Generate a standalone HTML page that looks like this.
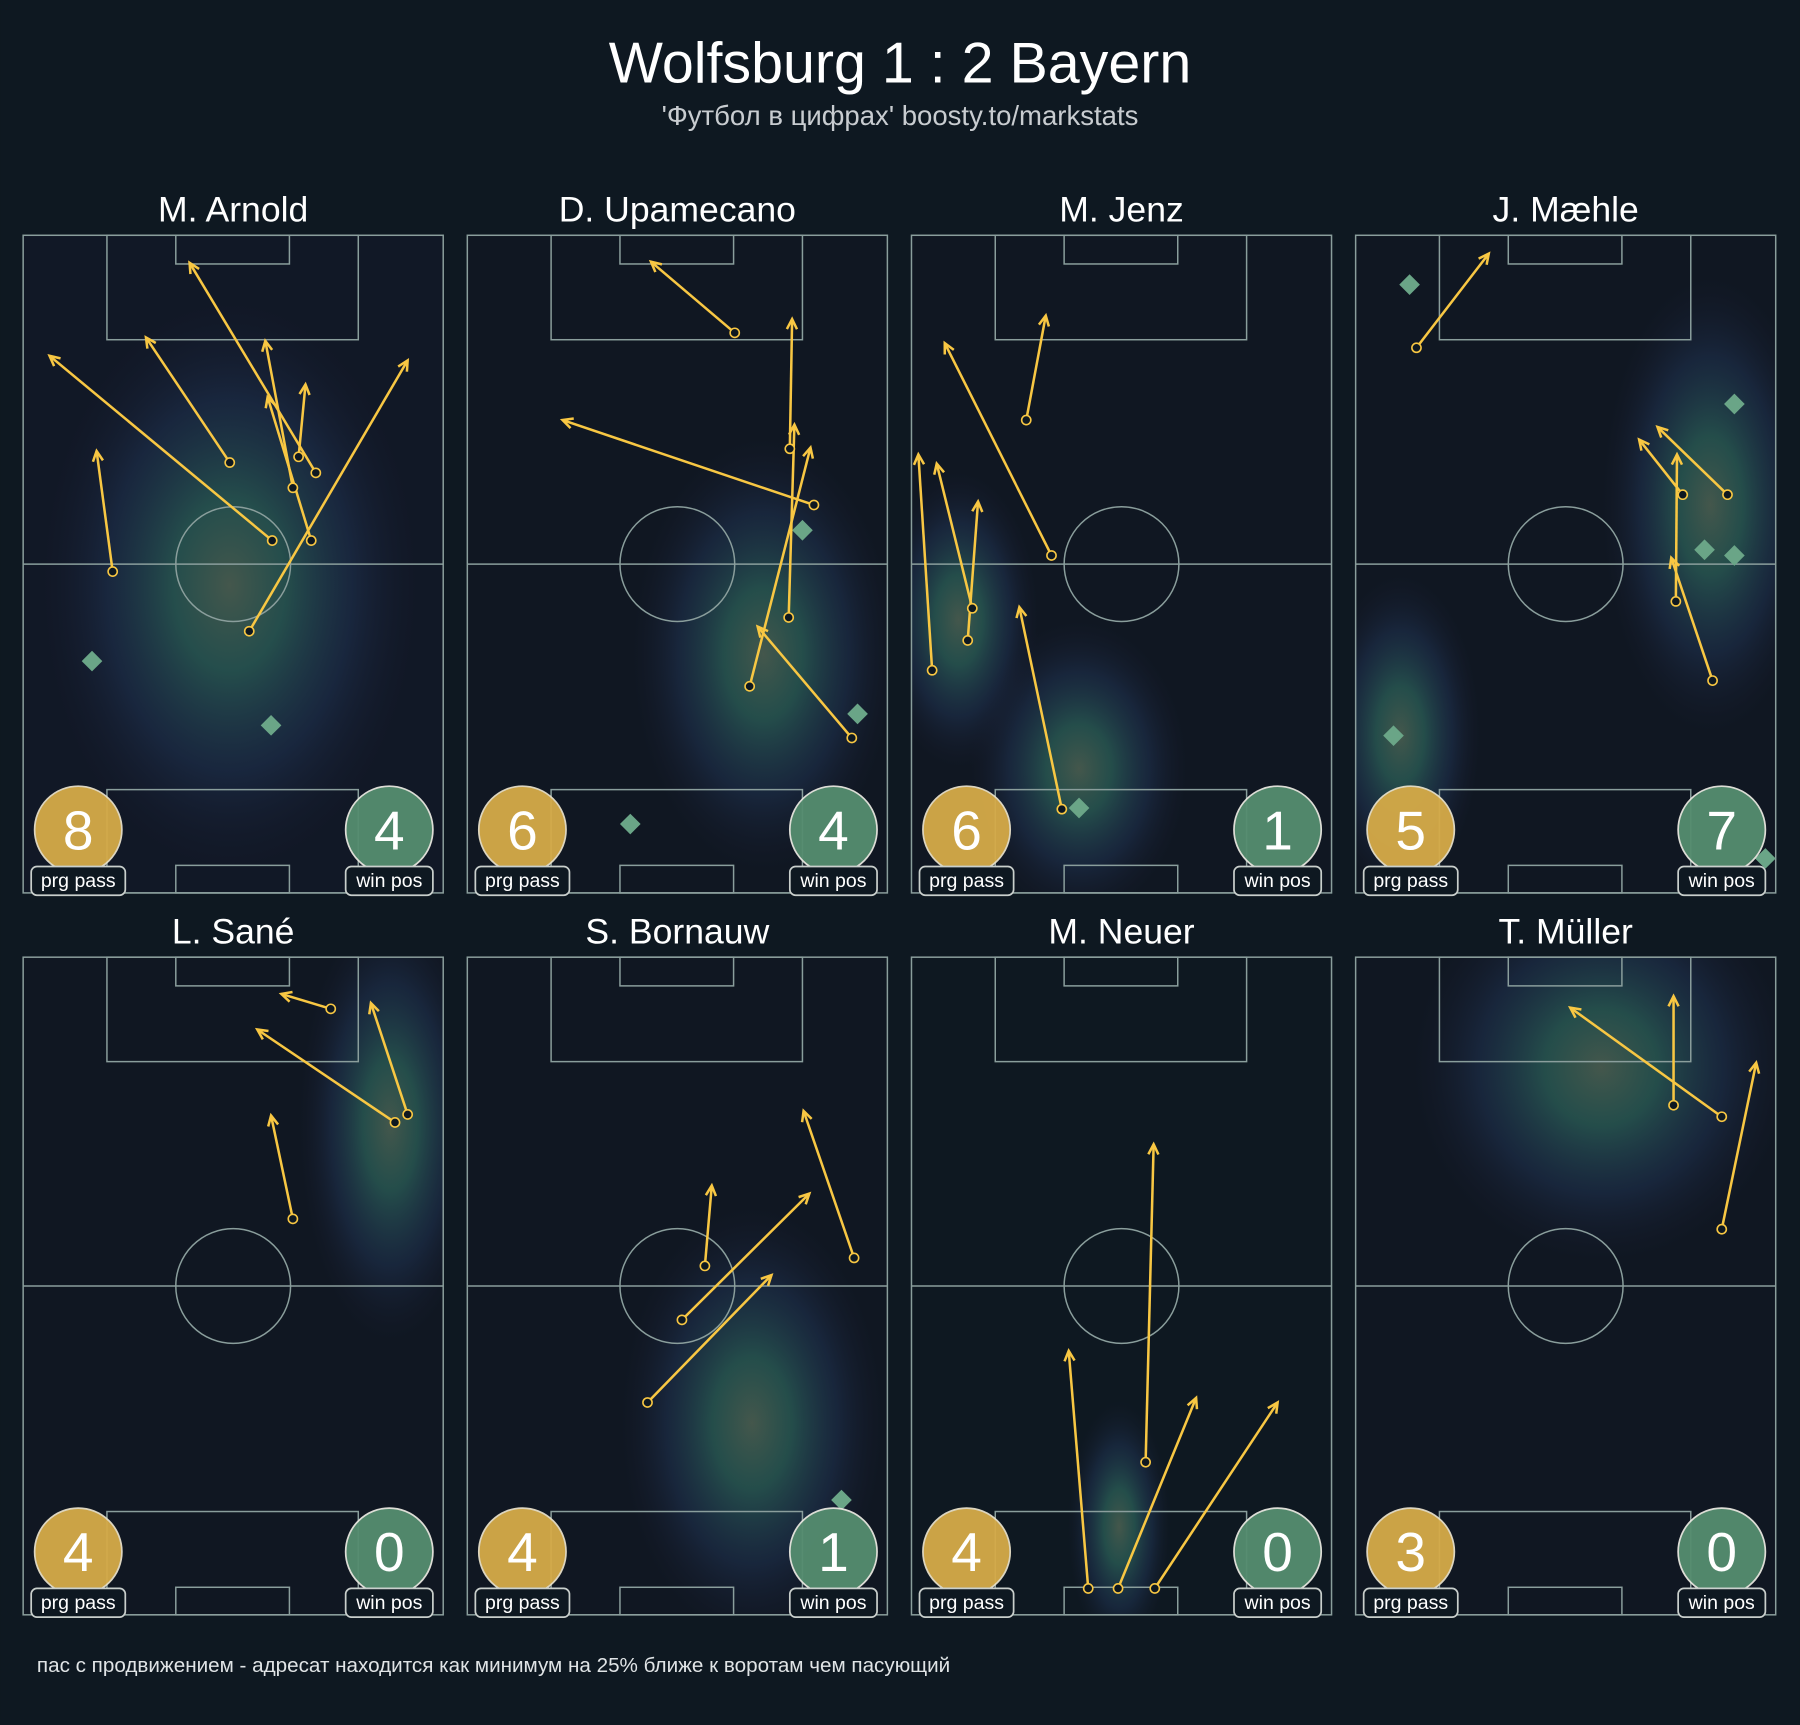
<!DOCTYPE html>
<html><head><meta charset="utf-8"><style>
html,body{margin:0;padding:0;background:#0e1821;}
svg{display:block}
text{font-family:"Liberation Sans","DejaVu Sans",sans-serif;fill:#fff}
.pl{fill:none;stroke:#8a9e9c;stroke-width:1.3}
.ar{stroke:#f8c743;stroke-width:2.2;fill:none;marker-end:url(#ah)}
.st{fill:#0e1821;stroke:#f8c743;stroke-width:1.4}
.dm{fill:#6aa587}
.nm{font-size:31px;text-anchor:middle}
.gb{fill:#d6ab48;stroke:#e8e0c8;stroke-width:1.5;opacity:.95}
.wb{fill:#558d6f;stroke:#e8e8e0;stroke-width:1.5;opacity:.95}
.bn{font-size:48px;text-anchor:middle}
.lb{fill:#0e1821;stroke:#c9cfcc;stroke-width:1.5}
.lt{font-size:17px;text-anchor:middle}
</style></head><body>
<svg width="1800" height="1725" viewBox="0 0 1568 1503" xmlns="http://www.w3.org/2000/svg">
<defs>
<marker id="ah" viewBox="0 0 10 10" refX="9" refY="5" markerWidth="11" markerHeight="11" orient="auto" markerUnits="userSpaceOnUse" style="overflow:visible">
<path d="M1,1 L9,5 L1,9" fill="none" stroke="#f8c743" stroke-width="2"/>
</marker>
<radialGradient id="hg">
<stop offset="0" stop-color="#4a5e50" stop-opacity="0.9"/>
<stop offset="0.3" stop-color="#2b5f58" stop-opacity="0.75"/>
<stop offset="0.65" stop-color="#22385a" stop-opacity="0.45"/>
<stop offset="1" stop-color="#1a1d33" stop-opacity="0"/>
</radialGradient>
<clipPath id="c1"><rect x="20" y="205" width="366" height="573"/></clipPath>
<clipPath id="c2"><rect x="407" y="205" width="366" height="573"/></clipPath>
<clipPath id="c3"><rect x="794" y="205" width="366" height="573"/></clipPath>
<clipPath id="c4"><rect x="1181" y="205" width="366" height="573"/></clipPath>
<clipPath id="c5"><rect x="20" y="834" width="366" height="573"/></clipPath>
<clipPath id="c6"><rect x="407" y="834" width="366" height="573"/></clipPath>
<clipPath id="c7"><rect x="794" y="834" width="366" height="573"/></clipPath>
<clipPath id="c8"><rect x="1181" y="834" width="366" height="573"/></clipPath>
<g id="pitch">
<rect x="0" y="0" width="366" height="573" class="pl"/>
<line x1="0" y1="286.5" x2="366" y2="286.5" class="pl"/>
<circle cx="183" cy="286.5" r="50" class="pl"/>
<rect x="73" y="0" width="219" height="91" class="pl"/>
<rect x="133" y="0" width="99" height="25" class="pl"/>
<rect x="73" y="483" width="219" height="90" class="pl"/>
<rect x="133" y="549" width="99" height="24" class="pl"/>
</g>
</defs>
<rect width="1568" height="1503" fill="#0e1821"/>
<text x="784" y="72" font-size="50" text-anchor="middle">Wolfsburg 1 : 2 Bayern</text>
<text x="784" y="109" font-size="24" text-anchor="middle" style="fill:#c8ccd0">'Футбол в цифрах' boosty.to/markstats</text>

<!-- heatmaps -->
<g>
<rect x="20" y="205" width="366" height="573" fill="#111826"/>
<ellipse clip-path="url(#c1)" cx="200" cy="510" rx="165" ry="250" fill="url(#hg)"/>
<rect x="407" y="205" width="366" height="573" fill="#101722"/>
<ellipse clip-path="url(#c2)" cx="665" cy="570" rx="115" ry="190" fill="url(#hg)"/>
<rect x="794" y="205" width="366" height="573" fill="#101722"/>
<ellipse clip-path="url(#c3)" cx="835" cy="540" rx="70" ry="130" fill="url(#hg)"/>
<ellipse clip-path="url(#c3)" cx="940" cy="670" rx="95" ry="130" fill="url(#hg)"/>
<rect x="1181" y="205" width="366" height="573" fill="#101722"/>
<ellipse clip-path="url(#c4)" cx="1490" cy="440" rx="95" ry="200" fill="url(#hg)"/>
<ellipse clip-path="url(#c4)" cx="1220" cy="640" rx="70" ry="140" fill="url(#hg)"/>
<rect x="20" y="834" width="366" height="573" fill="#101722"/>
<ellipse clip-path="url(#c5)" cx="340" cy="980" rx="80" ry="190" fill="url(#hg)"/>
<rect x="407" y="834" width="366" height="573" fill="#101722"/>
<ellipse clip-path="url(#c6)" cx="655" cy="1240" rx="115" ry="190" fill="url(#hg)"/>
<rect x="794" y="834" width="366" height="573" fill="#0e1821"/>
<ellipse clip-path="url(#c7)" cx="975" cy="1330" rx="45" ry="110" fill="url(#hg)"/>
<rect x="1181" y="834" width="366" height="573" fill="#101722"/>
<ellipse clip-path="url(#c8)" cx="1395" cy="930" rx="165" ry="170" fill="url(#hg)"/>
</g>

<use href="#pitch" x="20" y="205"/>
<use href="#pitch" x="407" y="205"/>
<use href="#pitch" x="794" y="205"/>
<use href="#pitch" x="1181" y="205"/>
<use href="#pitch" x="20" y="834"/>
<use href="#pitch" x="407" y="834"/>
<use href="#pitch" x="794" y="834"/>
<use href="#pitch" x="1181" y="834"/>

<text x="203" y="193" class="nm">M. Arnold</text>
<text x="590" y="193" class="nm">D. Upamecano</text>
<text x="977" y="193" class="nm">M. Jenz</text>
<text x="1364" y="193" class="nm">J. Mæhle</text>
<text x="203" y="822" class="nm">L. Sané</text>
<text x="590" y="822" class="nm">S. Bornauw</text>
<text x="977" y="822" class="nm">M. Neuer</text>
<text x="1364" y="822" class="nm">T. Müller</text>

<!-- diamonds -->
<g>
<path class="dm" d="M80,567 l9,9 -9,9 -9,-9z"/>
<path class="dm" d="M236,623 l9,9 -9,9 -9,-9z"/>
<path class="dm" d="M699,453 l9,9 -9,9 -9,-9z"/>
<path class="dm" d="M747,613 l9,9 -9,9 -9,-9z"/>
<path class="dm" d="M549,709 l9,9 -9,9 -9,-9z"/>
<path class="dm" d="M940,695 l9,9 -9,9 -9,-9z"/>
<path class="dm" d="M1228,239 l9,9 -9,9 -9,-9z"/>
<path class="dm" d="M1511,343 l9,9 -9,9 -9,-9z"/>
<path class="dm" d="M1485,470 l9,9 -9,9 -9,-9z"/>
<path class="dm" d="M1511,475 l9,9 -9,9 -9,-9z"/>
<path class="dm" d="M1214,632 l9,9 -9,9 -9,-9z"/>
<path class="dm" d="M1538,739 l9,9 -9,9 -9,-9z"/>
<path class="dm" d="M733,1298 l9,9 -9,9 -9,-9z"/>
</g>

<!-- arrows -->
<g>
<line class="ar" x1="98" y1="498" x2="84" y2="393"/>
<line class="ar" x1="237" y1="471" x2="43" y2="310"/>
<line class="ar" x1="200" y1="403" x2="127" y2="294"/>
<line class="ar" x1="275" y1="412" x2="165" y2="229"/>
<line class="ar" x1="255" y1="425" x2="231" y2="297"/>
<line class="ar" x1="260" y1="398" x2="266" y2="335"/>
<line class="ar" x1="271" y1="471" x2="233" y2="346"/>
<line class="ar" x1="217" y1="550" x2="355" y2="314"/>

<line class="ar" x1="640" y1="290" x2="567" y2="228"/>
<line class="ar" x1="709" y1="440" x2="490" y2="366"/>
<line class="ar" x1="688" y1="391" x2="690" y2="278"/>
<line class="ar" x1="687" y1="538" x2="692" y2="370"/>
<line class="ar" x1="653" y1="598" x2="706" y2="390"/>
<line class="ar" x1="742" y1="643" x2="660" y2="546"/>

<line class="ar" x1="894" y1="366" x2="911" y2="275"/>
<line class="ar" x1="916" y1="484" x2="823" y2="299"/>
<line class="ar" x1="812" y1="584" x2="800" y2="396"/>
<line class="ar" x1="843" y1="558" x2="852" y2="437"/>
<line class="ar" x1="847" y1="530" x2="816" y2="404"/>
<line class="ar" x1="925" y1="705" x2="888" y2="529"/>

<line class="ar" x1="1234" y1="303" x2="1297" y2="221"/>
<line class="ar" x1="1505" y1="431" x2="1444" y2="372"/>
<line class="ar" x1="1466" y1="431" x2="1428" y2="383"/>
<line class="ar" x1="1460" y1="524" x2="1461" y2="396"/>
<line class="ar" x1="1492" y1="593" x2="1456" y2="486"/>

<line class="ar" x1="288" y1="879" x2="245" y2="866"/>
<line class="ar" x1="344" y1="978" x2="224" y2="897"/>
<line class="ar" x1="355" y1="971" x2="323" y2="874"/>
<line class="ar" x1="255" y1="1062" x2="236" y2="972"/>

<line class="ar" x1="614" y1="1103" x2="620" y2="1033"/>
<line class="ar" x1="594" y1="1150" x2="705" y2="1040"/>
<line class="ar" x1="564" y1="1222" x2="672" y2="1111"/>
<line class="ar" x1="744" y1="1096" x2="700" y2="968"/>

<line class="ar" x1="948" y1="1384" x2="931" y2="1177"/>
<line class="ar" x1="998" y1="1274" x2="1005" y2="997"/>
<line class="ar" x1="974" y1="1384" x2="1042" y2="1218"/>
<line class="ar" x1="1006" y1="1384" x2="1113" y2="1222"/>

<line class="ar" x1="1458" y1="963" x2="1458" y2="868"/>
<line class="ar" x1="1500" y1="973" x2="1368" y2="878"/>
<line class="ar" x1="1500" y1="1071" x2="1530" y2="926"/>
</g>
<g>
<circle class="st" cx="98" cy="498" r="4"/><circle class="st" cx="237" cy="471" r="4"/><circle class="st" cx="200" cy="403" r="4"/><circle class="st" cx="275" cy="412" r="4"/><circle class="st" cx="255" cy="425" r="4"/><circle class="st" cx="260" cy="398" r="4"/><circle class="st" cx="271" cy="471" r="4"/><circle class="st" cx="217" cy="550" r="4"/>
<circle class="st" cx="640" cy="290" r="4"/><circle class="st" cx="709" cy="440" r="4"/><circle class="st" cx="688" cy="391" r="4"/><circle class="st" cx="687" cy="538" r="4"/><circle class="st" cx="653" cy="598" r="4"/><circle class="st" cx="742" cy="643" r="4"/>
<circle class="st" cx="894" cy="366" r="4"/><circle class="st" cx="916" cy="484" r="4"/><circle class="st" cx="812" cy="584" r="4"/><circle class="st" cx="843" cy="558" r="4"/><circle class="st" cx="847" cy="530" r="4"/><circle class="st" cx="925" cy="705" r="4"/>
<circle class="st" cx="1234" cy="303" r="4"/><circle class="st" cx="1505" cy="431" r="4"/><circle class="st" cx="1466" cy="431" r="4"/><circle class="st" cx="1460" cy="524" r="4"/><circle class="st" cx="1492" cy="593" r="4"/>
<circle class="st" cx="288" cy="879" r="4"/><circle class="st" cx="344" cy="978" r="4"/><circle class="st" cx="355" cy="971" r="4"/><circle class="st" cx="255" cy="1062" r="4"/>
<circle class="st" cx="614" cy="1103" r="4"/><circle class="st" cx="594" cy="1150" r="4"/><circle class="st" cx="564" cy="1222" r="4"/><circle class="st" cx="744" cy="1096" r="4"/>
<circle class="st" cx="948" cy="1384" r="4"/><circle class="st" cx="998" cy="1274" r="4"/><circle class="st" cx="974" cy="1384" r="4"/><circle class="st" cx="1006" cy="1384" r="4"/>
<circle class="st" cx="1458" cy="963" r="4"/><circle class="st" cx="1500" cy="973" r="4"/><circle class="st" cx="1500" cy="1071" r="4"/>
</g>

<!-- badges -->
<g>
<circle class="gb" cx="68" cy="723" r="38"/><text class="bn" x="68" y="740">8</text>
<rect class="lb" x="27" y="755" width="82" height="25" rx="5"/><text class="lt" x="68" y="773">prg pass</text>
<circle class="wb" cx="339" cy="723" r="38"/><text class="bn" x="339" y="740">4</text>
<rect class="lb" x="301" y="755" width="76" height="25" rx="5"/><text class="lt" x="339" y="773">win pos</text>

<circle class="gb" cx="455" cy="723" r="38"/><text class="bn" x="455" y="740">6</text>
<rect class="lb" x="414" y="755" width="82" height="25" rx="5"/><text class="lt" x="455" y="773">prg pass</text>
<circle class="wb" cx="726" cy="723" r="38"/><text class="bn" x="726" y="740">4</text>
<rect class="lb" x="688" y="755" width="76" height="25" rx="5"/><text class="lt" x="726" y="773">win pos</text>

<circle class="gb" cx="842" cy="723" r="38"/><text class="bn" x="842" y="740">6</text>
<rect class="lb" x="801" y="755" width="82" height="25" rx="5"/><text class="lt" x="842" y="773">prg pass</text>
<circle class="wb" cx="1113" cy="723" r="38"/><text class="bn" x="1113" y="740">1</text>
<rect class="lb" x="1075" y="755" width="76" height="25" rx="5"/><text class="lt" x="1113" y="773">win pos</text>

<circle class="gb" cx="1229" cy="723" r="38"/><text class="bn" x="1229" y="740">5</text>
<rect class="lb" x="1188" y="755" width="82" height="25" rx="5"/><text class="lt" x="1229" y="773">prg pass</text>
<circle class="wb" cx="1500" cy="723" r="38"/><text class="bn" x="1500" y="740">7</text>
<rect class="lb" x="1462" y="755" width="76" height="25" rx="5"/><text class="lt" x="1500" y="773">win pos</text>

<circle class="gb" cx="68" cy="1352" r="38"/><text class="bn" x="68" y="1369">4</text>
<rect class="lb" x="27" y="1384" width="82" height="25" rx="5"/><text class="lt" x="68" y="1402">prg pass</text>
<circle class="wb" cx="339" cy="1352" r="38"/><text class="bn" x="339" y="1369">0</text>
<rect class="lb" x="301" y="1384" width="76" height="25" rx="5"/><text class="lt" x="339" y="1402">win pos</text>

<circle class="gb" cx="455" cy="1352" r="38"/><text class="bn" x="455" y="1369">4</text>
<rect class="lb" x="414" y="1384" width="82" height="25" rx="5"/><text class="lt" x="455" y="1402">prg pass</text>
<circle class="wb" cx="726" cy="1352" r="38"/><text class="bn" x="726" y="1369">1</text>
<rect class="lb" x="688" y="1384" width="76" height="25" rx="5"/><text class="lt" x="726" y="1402">win pos</text>

<circle class="gb" cx="842" cy="1352" r="38"/><text class="bn" x="842" y="1369">4</text>
<rect class="lb" x="801" y="1384" width="82" height="25" rx="5"/><text class="lt" x="842" y="1402">prg pass</text>
<circle class="wb" cx="1113" cy="1352" r="38"/><text class="bn" x="1113" y="1369">0</text>
<rect class="lb" x="1075" y="1384" width="76" height="25" rx="5"/><text class="lt" x="1113" y="1402">win pos</text>

<circle class="gb" cx="1229" cy="1352" r="38"/><text class="bn" x="1229" y="1369">3</text>
<rect class="lb" x="1188" y="1384" width="82" height="25" rx="5"/><text class="lt" x="1229" y="1402">prg pass</text>
<circle class="wb" cx="1500" cy="1352" r="38"/><text class="bn" x="1500" y="1369">0</text>
<rect class="lb" x="1462" y="1384" width="76" height="25" rx="5"/><text class="lt" x="1500" y="1402">win pos</text>
</g>

<text x="32" y="1457" font-size="18" style="fill:#e0e4e6">пас с продвижением - адресат находится как минимум на 25% ближе к воротам чем пасующий</text>
</svg>
</body></html>
